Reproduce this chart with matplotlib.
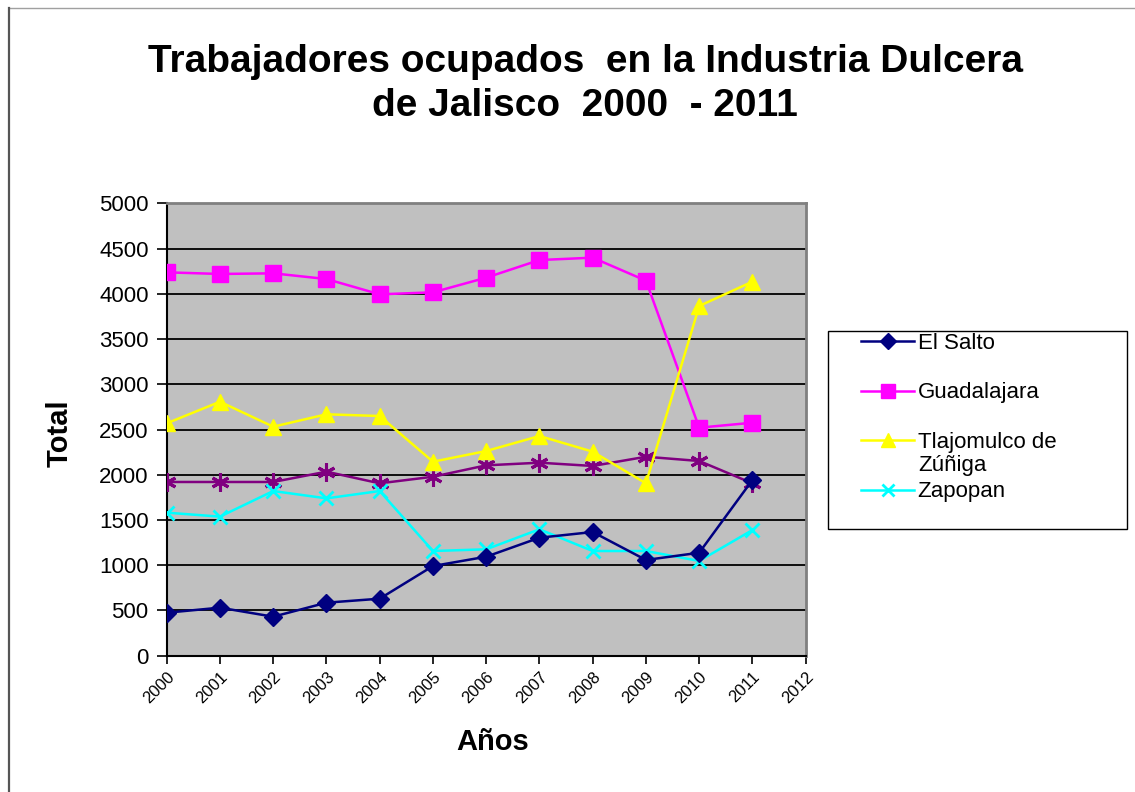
import matplotlib.pyplot as plt
from matplotlib.lines import Line2D
from matplotlib.patches import Rectangle

plt.rcParams['font.family'] = ['Liberation Sans', 'DejaVu Sans']

# Data
years = [2000, 2001, 2002, 2003, 2004, 2005, 2006, 2007, 2008, 2009, 2010, 2011]
el_salto = [475, 531, 431, 586, 630, 991, 1094, 1304, 1367, 1058, 1138, 1942]
guadalajara = [4237, 4219, 4226, 4163, 3994, 4016, 4178, 4373, 4399, 4145, 2520, 2575]
tlajomulco = [2568, 2807, 2531, 2668, 2649, 2144, 2262, 2428, 2255, 1905, 3865, 4134]
zapopan = [1581, 1537, 1820, 1739, 1820, 1157, 1176, 1397, 1157, 1157, 1047, 1389]
otro = [1920, 1920, 1920, 2034, 1905, 1978, 2104, 2133, 2097, 2199, 2152, 1905]
tick_years = list(range(2000, 2013))

W, H = 1135, 792
fig = plt.figure(figsize=(W / 100, H / 100), dpi=100)
ax = fig.add_axes([166.7 / W, 1 - 655.7 / H, 639 / W, 452.4 / H])
ax.set_facecolor('#C0C0C0')

lw = 1.8
l1, = ax.plot(years, el_salto, color='#000080', lw=lw, marker='D', ms=9, label='El Salto', zorder=5)
l2, = ax.plot(years, guadalajara, color='#FF00FF', lw=lw, marker='s', ms=11, label='Guadalajara', zorder=4)
l3, = ax.plot(years, tlajomulco, color='#FFFF00', lw=lw, marker='^', ms=11, label='Tlajomulco de', zorder=4)
l4, = ax.plot(years, zapopan, color='#00FFFF', lw=lw, marker='x', ms=10, mew=2, label='Zapopan', zorder=4)
ax.plot(years, otro, color='#800080', lw=lw, marker=(6, 2, 0), ms=13, mew=2.2, zorder=3)

ax.set_xlim(2000, 2012)
ax.set_ylim(0, 5000)
ax.set_yticks(range(0, 5001, 500))
ax.set_xticks(tick_years)
ax.set_xticklabels([str(y) for y in tick_years], rotation=45, ha='right',
                   rotation_mode='anchor', fontsize=12)
ax.tick_params(axis='y', labelsize=16, length=7, width=1.2, direction='out', pad=6)
ax.tick_params(axis='x', length=6, width=1.2, direction='out')
ax.yaxis.grid(True, color='#000000', lw=1.3)
ax.set_axisbelow(True)
for side in ['top', 'right']:
    ax.spines[side].set_color('#808080')
    ax.spines[side].set_linewidth(2)
for side in ['left', 'bottom']:
    ax.spines[side].set_color('#000000')
    ax.spines[side].set_linewidth(1.5)

fig.text(60 / W, 1 - 433 / H, 'Total', rotation=90, fontsize=21, fontweight='bold',
         ha='center', va='center')
fig.text(493 / W, 1 - 742 / H, 'Años', fontsize=21, fontweight='bold',
         ha='center', va='center')
fig.text(585 / W, 1 - 84 / H, 'Trabajadores ocupados  en la Industria Dulcera\nde Jalisco  2000  - 2011',
         fontsize=28, fontweight='bold', ha='center', va='center', linespacing=1.3)

# legend
fig.patches.append(Rectangle((828 / W, 1 - 529 / H), 299 / W, 198 / H,
                             transform=fig.transFigure, fill=False, ec='black', lw=1))
fig.legend(handles=[l1, l2, l3, l4], loc='upper left',
           bbox_to_anchor=(861 / W, 1 - 333 / H), frameon=False, fontsize=16,
           borderpad=0, borderaxespad=0, handlelength=2.4, handletextpad=0.15,
           labelspacing=1.28, markerscale=0.9)
fig.text(918 / W, 1 - 466 / H, 'Zúñiga', fontsize=16, ha='left', va='center')

# outer frame lines
fig.add_artist(Line2D([8.5 / W, 1], [1 - 8 / H, 1 - 8 / H], transform=fig.transFigure,
                      color='#A0A0A0', lw=1))
fig.add_artist(Line2D([8.5 / W, 8.5 / W], [0, 1 - 8 / H], transform=fig.transFigure,
                      color='#555555', lw=1.6))

fig.savefig('out.png', dpi=100)
